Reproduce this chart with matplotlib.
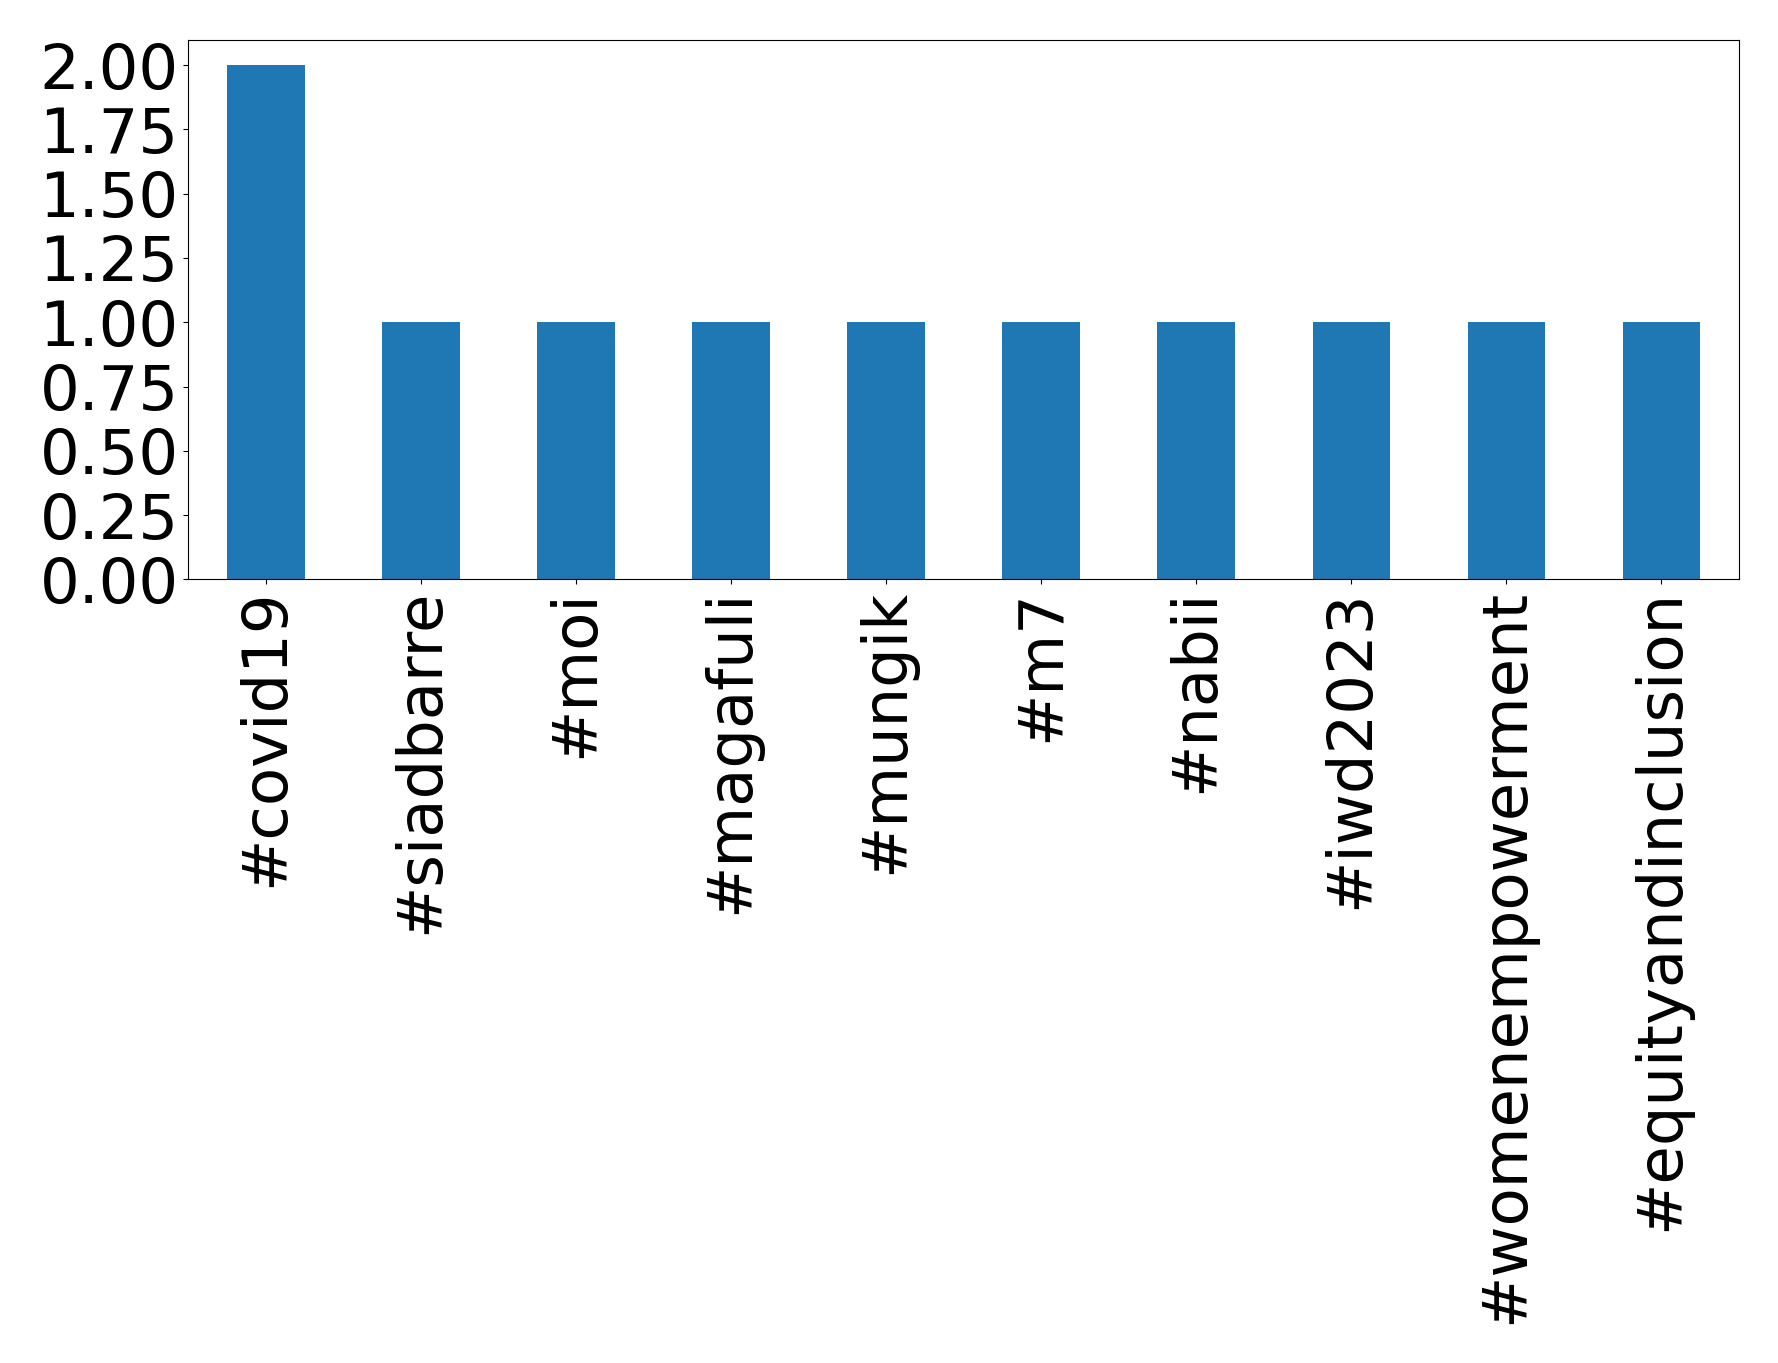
import matplotlib
matplotlib.use("Agg")
import matplotlib.pyplot as plt
import numpy as np

# hashtag counts
hashtags = ['#covid19', '#siadbarre', '#moi', '#magafuli', '#mungik',
            '#m7', '#nabii', '#iwd2023', '#womenempowerment', '#equityandinclusion']
counts = [2, 1, 1, 1, 1, 1, 1, 1, 1, 1]

fig, ax = plt.subplots(figsize=(17.78, 13.63), dpi=100)
x = np.arange(len(hashtags))
ax.bar(x, counts, width=0.5, color='#1f77b4')
ax.set_xticks(x)
ax.set_xticklabels(hashtags, rotation=90, fontsize=45)
ax.set_xlim(-0.5, len(hashtags) - 0.5)
ax.set_yticks(np.arange(0, 2.01, 0.25))
ax.set_yticklabels(['%.2f' % v for v in np.arange(0, 2.01, 0.25)], fontsize=45)
ax.set_ylim(0, 2.1)

plt.subplots_adjust(left=0.106, right=0.978, top=0.971, bottom=0.575)
plt.savefig('out.png', dpi=100)
